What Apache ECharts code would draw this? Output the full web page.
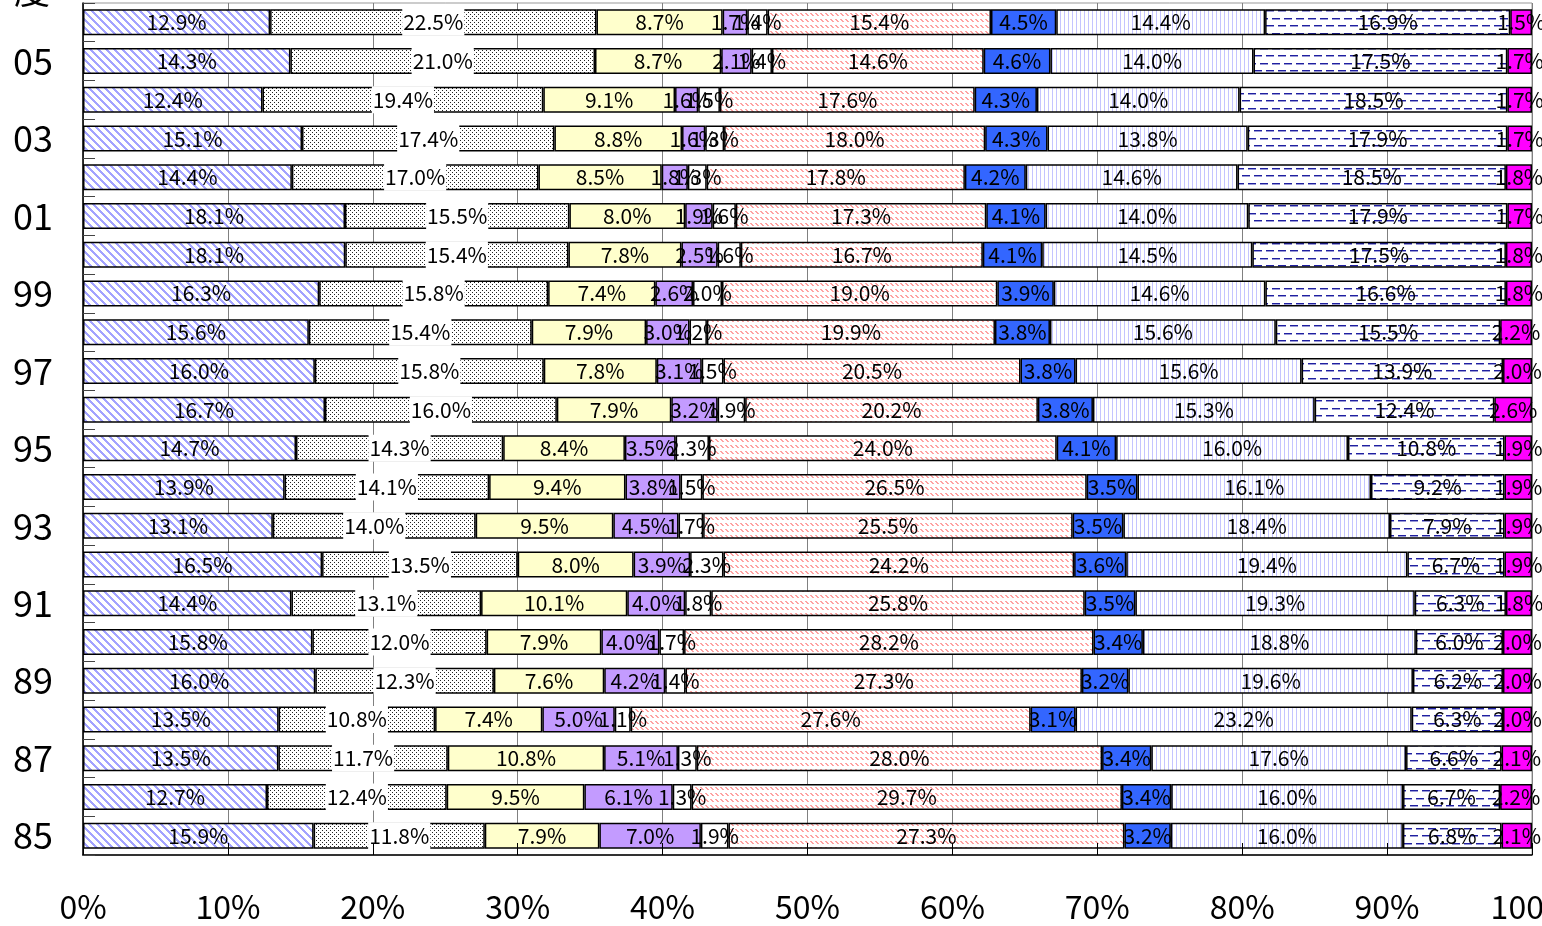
<!DOCTYPE html>
<html>
<head>
<meta charset="utf-8">
<script src="https://cdn.jsdelivr.net/npm/echarts@6/dist/echarts.min.js"></script>
<style>
  html, body { margin: 0; padding: 0; background: #fff; }
  #chart { width: 1542px; height: 926px; }
</style>
</head>
<body>
<div id="chart"></div>
<script>
// fiscal years, bottom (85) to top (06)
const years = ['85', '86', '87', '88', '89', '90', '91', '92', '93', '94', '95',
  '96', '97', '98', '99', '00', '01', '02', '03', '04', '05', '06']

// shares per year (%), one array per segment, left to right
const seg1 = [15.9, 12.7, 13.5, 13.5, 16.0, 15.8, 14.4, 16.5, 13.1, 13.9, 14.7, 16.7, 16.0, 15.6, 16.3, 18.1, 18.1, 14.4, 15.1, 12.4, 14.3, 12.9]
const seg2 = [11.8, 12.4, 11.7, 10.8, 12.3, 12.0, 13.1, 13.5, 14.0, 14.1, 14.3, 16.0, 15.8, 15.4, 15.8, 15.4, 15.5, 17.0, 17.4, 19.4, 21.0, 22.5]
const seg3 = [7.9, 9.5, 10.8, 7.4, 7.6, 7.9, 10.1, 8.0, 9.5, 9.4, 8.4, 7.9, 7.8, 7.9, 7.4, 7.8, 8.0, 8.5, 8.8, 9.1, 8.7, 8.7]
const seg4 = [7.0, 6.1, 5.1, 5.0, 4.2, 4.0, 4.0, 3.9, 4.5, 3.8, 3.5, 3.2, 3.1, 3.0, 2.6, 2.5, 1.9, 1.8, 1.6, 1.6, 2.1, 1.7]
const seg5 = [1.9, 1.3, 1.3, 1.1, 1.4, 1.7, 1.8, 2.3, 1.7, 1.5, 2.3, 1.9, 1.5, 1.2, 2.0, 1.6, 1.6, 1.3, 1.3, 1.5, 1.4, 1.4]
const seg6 = [27.3, 29.7, 28.0, 27.6, 27.3, 28.2, 25.8, 24.2, 25.5, 26.5, 24.0, 20.2, 20.5, 19.9, 19.0, 16.7, 17.3, 17.8, 18.0, 17.6, 14.6, 15.4]
const seg7 = [3.2, 3.4, 3.4, 3.1, 3.2, 3.4, 3.5, 3.6, 3.5, 3.5, 4.1, 3.8, 3.8, 3.8, 3.9, 4.1, 4.1, 4.2, 4.3, 4.3, 4.6, 4.5]
const seg8 = [16.0, 16.0, 17.6, 23.2, 19.6, 18.8, 19.3, 19.4, 18.4, 16.1, 16.0, 15.3, 15.6, 15.6, 14.6, 14.5, 14.0, 14.6, 13.8, 14.0, 14.0, 14.4]
const seg9 = [6.8, 6.7, 6.6, 6.3, 6.2, 6.0, 6.3, 6.7, 7.9, 9.2, 10.8, 12.4, 13.9, 15.5, 16.6, 17.5, 17.9, 18.5, 17.9, 18.5, 17.5, 16.9]
const seg10 = [2.1, 2.2, 2.1, 2.0, 2.0, 2.0, 1.8, 1.9, 1.9, 1.9, 1.9, 2.6, 2.0, 2.2, 1.8, 1.8, 1.7, 1.8, 1.7, 1.7, 1.7, 1.5]

const segments = [seg1, seg2, seg3, seg4, seg5, seg6, seg7, seg8, seg9, seg10]
const xTicks = [0, 10, 20, 30, 40, 50, 60, 70, 80, 90, 100]

// small canvas tiles for the hatch fills
function tile (w, h, draw) {
  const c = document.createElement('canvas')
  c.width = w
  c.height = h
  const g = c.getContext('2d')
  g.fillStyle = '#fff'
  g.fillRect(0, 0, w, h)
  draw(g)
  return { image: c, repeat: 'repeat' }
}

const diagBlue = tile(8, 8, g => {
  g.fillStyle = '#a3a3ff'
  for (let i = 0; i < 8; i++) {
    for (let t = 0; t < 3; t++) g.fillRect((i + t) % 8, i, 1, 1)
  }
})
const dots = tile(4, 4, g => {
  g.fillStyle = '#222'
  g.fillRect(0, 0, 1, 1)
  g.fillRect(2, 2, 1, 1)
})
const pinkHatch = tile(5, 6, g => {
  g.fillStyle = '#ffa3a3'
  for (let i = 0; i < 3; i++) g.fillRect(i, i + 1, 2, 1)
})
const vLines = tile(4, 1, g => {
  g.fillStyle = '#c4c4ff'
  g.fillRect(0, 0, 1, 1)
})
const hDash = tile(12, 15, g => {
  g.fillStyle = '#1f1fa0'
  g.fillRect(0, 3, 8, 1)
  g.fillRect(6, 10, 6, 1)
  g.fillRect(0, 10, 2, 1)
  g.fillStyle = '#9a9ad6'
  g.fillRect(0, 4, 8, 1)
  g.fillRect(6, 11, 6, 1)
  g.fillRect(0, 11, 2, 1)
})

const fills = [diagBlue, dots, '#ffffcc', '#c39bff', '#ffffff', pinkHatch, '#3366ff', vLines, hDash, '#ff00ff']

const totals = years.map((y, i) => segments.reduce((s, a) => s + a[i], 0))

const labelFont = 'Noto Sans CJK JP'

const series = segments.map((arr, k) => ({
  type: 'bar',
  stack: 'all',
  barWidth: 26,
  data: arr.map((v, i) => ({ value: v / totals[i] * 100, raw: v })),
  itemStyle: {
    color: fills[k],
    borderColor: '#000',
    borderWidth: 1.5
  },
  label: {
    show: true,
    position: 'inside',
    color: '#000',
    fontSize: 21,
    fontFamily: labelFont,
    backgroundColor: k === 1 ? '#fff' : 'transparent',
    padding: k === 1 ? [3, 1, 3, 1] : 0,
    formatter: p => p.data.raw.toFixed(1) + '%'
  },
  emphasis: { disabled: true }
}))

const chart = echarts.init(document.getElementById('chart'))
chart.setOption({
  animation: false,
  grid: {
    left: 83,
    right: 10,
    top: 3,
    bottom: 71,
    outerBoundsMode: 'none',
    containLabel: false,
    show: true,
    borderColor: '#999',
    borderWidth: 1
  },
  xAxis: [{
    type: 'value',
    min: 0,
    max: 100,
    interval: 10,
    position: 'bottom',
    axisLine: { show: true, lineStyle: { color: '#000', width: 1.5 } },
    axisTick: { show: false },
    splitLine: { show: true, lineStyle: { color: '#808080', width: 1 } },
    axisLabel: {
      margin: 36,
      fontSize: 32,
      fontFamily: labelFont,
      color: '#000',
      formatter: v => xTicks.includes(v) ? v + '%' : ''
    }
  }, {
    // ticks drawn over the bars
    type: 'value',
    min: 0,
    max: 100,
    interval: 10,
    position: 'bottom',
    z: 10,
    axisLine: { show: false },
    axisTick: { show: true, inside: true, length: 12, lineStyle: { color: '#000', width: 1 } },
    splitLine: { show: false },
    axisLabel: { show: false }
  }],
  yAxis: {
    type: 'category',
    data: years,
    axisLine: { show: true, lineStyle: { color: '#000', width: 1.5 } },
    axisTick: { show: true, inside: true, interval: 0, length: 12, lineStyle: { color: '#444' } },
    axisLabel: {
      interval: 1,
      margin: 30,
      fontSize: 36,
      fontFamily: labelFont,
      color: '#000'
    }
  },
  graphic: [{
    type: 'text',
    left: 14,
    top: -70,
    style: {
      text: '年\n度',
      fontSize: 36,
      lineHeight: 40,
      fontFamily: labelFont,
      fill: '#000'
    }
  }],
  series: series
})
</script>
</body>
</html>
